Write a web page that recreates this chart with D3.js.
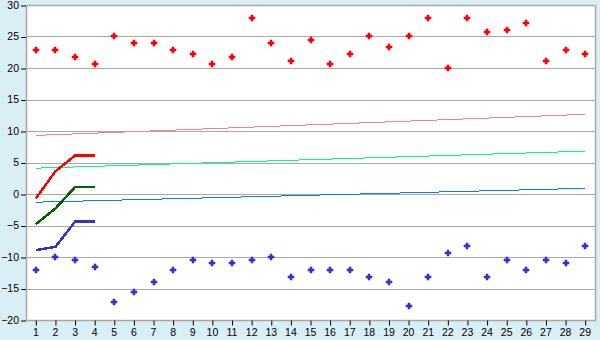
<!DOCTYPE html>
<html>
<head>
<meta charset="utf-8">
<style>
    body { margin: 0; background: #daeef5; }
    svg { display: block; font-family: "DejaVu Sans", Verdana, sans-serif; }
    .tick text { font-size: 10.5px; fill: #000; }
    .tick line { stroke: #000; }
</style>
</head>
<body>
<svg width="600" height="340"></svg>
<script src="https://d3js.org/d3.v7.min.js"></script>
<script>
    // categories along the bottom
    let cats = ["1","2","3","4","5","6","7","8","9","10","11","12","13","14","15","16","17","18","19","20","21","22","23","24","25","26","27","28","29"]
    let yTicks = [-20, -15, -10, -5, 0, 5, 10, 15, 20, 25, 30]

    // scattered points
    let redPts = [22.8, 22.8, 21.7, 20.6, 25.0, 23.9, 23.9, 22.8, 22.2, 20.6, 21.7, 27.9, 23.9, 21.1, 24.4, 20.6, 22.2, 25.0, 23.3, 25.0, 27.9, 20.0, 27.9, 25.7, 26.1, 27.2, 21.1, 22.8, 22.2]
    let bluePts = [-12.1, -10.0, -10.5, -11.6, -17.2, -15.6, -13.9, -12.1, -10.5, -11.0, -11.0, -10.5, -10.0, -13.2, -12.1, -12.1, -12.1, -13.2, -13.9, -17.8, -13.2, -9.4, -8.3, -13.2, -10.5, -12.1, -10.5, -11.0, -8.3]

    // short thick lines over the first four categories
    let redLine = [-0.7, 3.6, 6.1, 6.1]
    let greenLine = [-4.8, -2.3, 1.1, 1.1]
    let blueLine = [-8.9, -8.4, -4.4, -4.4]

    // trend lines: value at first and last category
    let trendPink = [9.3, 12.65]
    let trendGreen = [4.1, 6.8]
    let trendBlue = [-1.3, 0.9]

    let plotLeft = 26, plotRight = 595, plotTop = 5, plotBottom = 320
    let svg = d3.select("svg")

    let x = d3.scaleBand().domain(cats).range([plotLeft, plotRight]).padding(0)
    let y = d3.scaleLinear().domain([-20, 30]).range([plotBottom, plotTop])
    let cx = c => x(c) + x.bandwidth() / 2

    svg.append("rect")
        .attr("x", plotLeft).attr("y", plotTop)
        .attr("width", plotRight - plotLeft).attr("height", plotBottom - plotTop)
        .attr("fill", "white")

    // grid
    svg.append("g")
        .selectAll("line")
        .data(yTicks)
        .join("line")
        .attr("x1", plotLeft).attr("x2", plotRight)
        .attr("y1", d => Math.round(y(d)) + 0.5).attr("y2", d => Math.round(y(d)) + 0.5)
        .attr("stroke", "#a8a8a8")

    // border
    svg.append("rect")
        .attr("x", plotLeft + 0.5).attr("y", plotTop + 0.5)
        .attr("width", plotRight - plotLeft).attr("height", plotBottom - plotTop)
        .attr("fill", "none").attr("stroke", "#a8a8a8").attr("stroke-width", 1.5)

    let xAxis = svg.append("g")
        .attr("transform", `translate(0,${plotBottom + 0.5})`)
        .call(d3.axisBottom(x).tickSize(5).tickSizeOuter(0).tickPadding(3))
    xAxis.select(".domain").remove()
    xAxis.selectAll(".tick line").attr("transform", "translate(0.5,0)")

    let yAxis = svg.append("g")
        .attr("transform", `translate(${plotLeft},0)`)
        .call(d3.axisLeft(y).tickValues(yTicks).tickSize(5).tickSizeOuter(0).tickPadding(2))
    yAxis.select(".domain").remove()
    yAxis.selectAll(".tick line").attr("transform", "translate(0,0.5)")

    // trend lines
    let trends = [[trendPink, "#ff8080"], [trendGreen, "#00ff80"], [trendBlue, "#0080ff"]]
    trends.forEach(([t, col]) => {
        svg.append("line")
            .attr("x1", cx(cats[0])).attr("x2", cx(cats[cats.length - 1]))
            .attr("y1", y(t[0])).attr("y2", y(t[1]))
            .attr("stroke", col).attr("stroke-width", 1)
            .attr("shape-rendering", "crispEdges")
    })

    let line = d3.line().x((d, i) => cx(cats[i])).y(d => y(d))
    let lines = [[redLine, "#ff0000"], [greenLine, "#006400"], [blueLine, "#3333cc"]]
    lines.forEach(([vals, col]) => {
        svg.append("path")
            .attr("d", line(vals))
            .attr("fill", "none").attr("stroke", col).attr("stroke-width", 2.5)
            .attr("shape-rendering", "crispEdges")
    })

    // small plus shaped markers
    let marker = "M-1,-3h2v2h2v2h-2v2h-2v-2h-2v-2h2z"
    let pts = [[redPts, "#ff0000"], [bluePts, "#3333cc"]]
    pts.forEach(([vals, col]) => {
        svg.append("g")
            .selectAll("path")
            .data(vals)
            .join("path")
            .attr("d", marker)
            .attr("transform", (d, i) => `translate(${Math.round(cx(cats[i]))},${Math.round(y(d))})`)
            .attr("fill", col)
            .attr("stroke", col).attr("stroke-width", 0.6)
    })
</script>
</body>
</html>
